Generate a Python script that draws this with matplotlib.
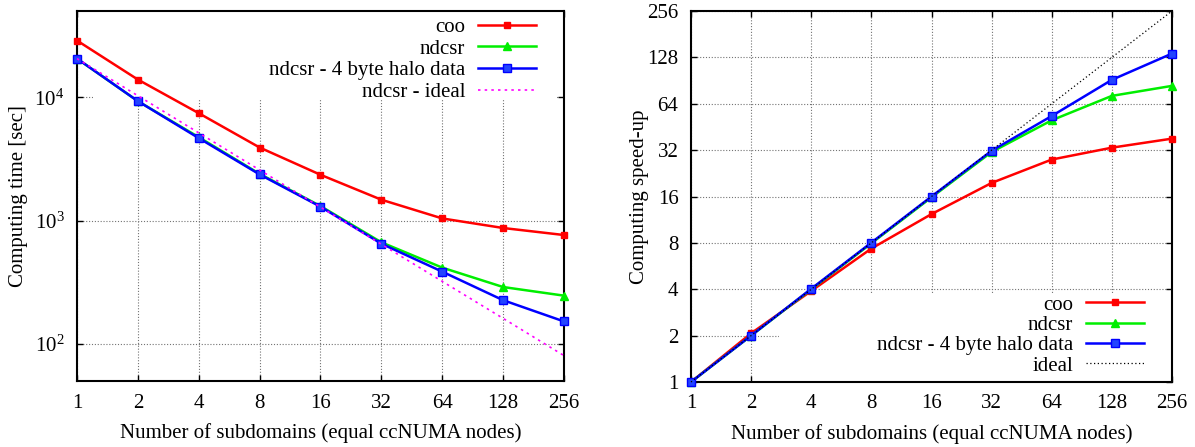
import matplotlib
matplotlib.use("Agg")
import matplotlib.pyplot as plt
from matplotlib.ticker import NullLocator, FixedLocator
from matplotlib.patches import Rectangle

# Number of subdomains (ccNUMA nodes)
nodes = [1, 2, 4, 8, 16, 32, 64, 128, 256]
node_labels = ["1", "2", "4", "8", "16", "32", "64", "128", "256"]

# Computing time [sec]
time_coo = [28800, 13900, 7420, 3910, 2350, 1475, 1040, 870, 763]
time_ndcsr = [20560, 9290, 4740, 2390, 1310, 666, 415, 289, 246]
time_ndcsr_halo4 = [20560, 9290, 4660, 2365, 1295, 649, 385, 226, 152]
time_ndcsr_ideal = [20560, 10280, 5140, 2570, 1285, 642, 321, 161, 80.3]

# Computing speed-up
speedup_coo = [1.0, 2.07, 3.9, 7.35, 12.3, 19.6, 27.8, 33.2, 38.0]
speedup_ndcsr = [1.0, 2.0, 4.0, 7.95, 15.8, 31.1, 50.0, 72.0, 83.6]
speedup_ndcsr_halo4 = [1.0, 2.0, 4.03, 8.03, 16.0, 31.7, 53.3, 91.5, 135.5]
speedup_ideal = [1, 256]
speedup_ideal_nodes = [1, 256]
speedup_ticks = [1, 2, 4, 8, 16, 32, 64, 128, 256]
speedup_labels = ["1", "2", "4", "8", "16", "32", "64", "128", "256"]

plt.rcParams["font.family"] = ["Liberation Serif", "DejaVu Serif"]
plt.rcParams["mathtext.fontset"] = "custom"
plt.rcParams["mathtext.rm"] = "Liberation Serif"
plt.rcParams["mathtext.it"] = "Liberation Serif:italic"
FS = 15

fig = plt.figure(figsize=(11.95, 4.47), dpi=100)
W, H = 1195.0, 447.0
ax1 = fig.add_axes([77 / W, (H - 381) / H, 487 / W, 370 / H])
ax2 = fig.add_axes([691 / W, (H - 382) / H, 481 / W, 371 / H])

RED, GREEN, BLUE, MAGENTA = "#ff0000", "#00ee00", "#0000ff", "#ff00ff"
LW = 1.8


def style_axes(ax):
    ax.set_xscale("log", base=2)
    ax.set_xlim(1, 256)
    ax.xaxis.set_major_locator(FixedLocator(nodes))
    ax.set_xticklabels(node_labels)
    ax.xaxis.set_minor_locator(NullLocator())
    ax.yaxis.set_minor_locator(NullLocator())
    ax.tick_params(which="major", direction="in", length=4, width=1.0,
                   top=True, right=True, labelsize=FS)
    ax.tick_params(axis="x", pad=9)
    ax.tick_params(axis="y", pad=9)
    for sp in ax.spines.values():
        sp.set_linewidth(1.5)
    ax.set_axisbelow(True)
    ax.grid(True, which="major", color="0.45", linestyle=(0, (1, 1.6)),
            linewidth=0.8)
    ax.set_xlabel("Number of subdomains (equal ccNUMA nodes)", fontsize=FS)
    ax.xaxis.set_label_coords(0.5, -0.14)
    ax.xaxis.label.set_va("center")


# ---- Left: computing time ----
style_axes(ax1)
ax1.set_yscale("log")
ax1.set_ylim(50, 50000)
ax1.yaxis.set_major_locator(FixedLocator([100, 1000, 10000]))
ax1.yaxis.set_minor_locator(NullLocator())
ax1.set_ylabel("Computing time [sec]", fontsize=FS, va="center")
ax1.yaxis.set_label_coords(-0.121, 0.5)

ax1.add_patch(Rectangle((0.033, 0.762), 0.953, 0.238, transform=ax1.transAxes,
                        facecolor="white", edgecolor="none", zorder=1))
ax1.plot(nodes, time_coo, color=RED, lw=LW, marker="s", ms=4.3,
         label="coo", zorder=3)
ax1.plot(nodes, time_ndcsr, color=GREEN, lw=LW, marker="^", ms=6,
         label="ndcsr", zorder=3)
ax1.plot(nodes, time_ndcsr_halo4, color=BLUE, lw=LW, marker="s", ms=5.5,
         markerfacecolor="#2244ff", label="ndcsr - 4 byte halo data", zorder=3)
ax1.plot(nodes, time_ndcsr_ideal, color=MAGENTA, lw=1.2,
         linestyle=(0, (1.5, 2.5)), label="ndcsr - ideal", zorder=3)

leg1 = ax1.legend(loc="upper right", bbox_to_anchor=(0.955, 1.0),
                  markerfirst=False, frameon=False, fontsize=FS,
                  borderaxespad=0, borderpad=0.3, labelspacing=0.1,
                  handlelength=2.8, handletextpad=0.6)

# ---- Right: speed-up ----
style_axes(ax2)
ax2.set_yscale("log", base=2)
ax2.set_ylim(1, 256)
ax2.yaxis.set_major_locator(FixedLocator(speedup_ticks))
ax2.set_yticklabels(speedup_labels)
ax2.yaxis.set_minor_locator(NullLocator())
ax2.set_ylabel("Computing speed-up", fontsize=FS, va="center")
ax2.yaxis.set_label_coords(-0.108, 0.5)

ax2.add_patch(Rectangle((0.183, 0.0), 0.817, 0.24, transform=ax2.transAxes,
                        facecolor="white", edgecolor="none", zorder=1))
ax2.plot(nodes, speedup_coo, color=RED, lw=LW, marker="s", ms=4.3,
         label="coo", zorder=3)
ax2.plot(nodes, speedup_ndcsr, color=GREEN, lw=LW, marker="^", ms=6,
         label="ndcsr", zorder=3)
ax2.plot(nodes, speedup_ndcsr_halo4, color=BLUE, lw=LW, marker="s", ms=5.5,
         markerfacecolor="#2244ff", label="ndcsr - 4 byte halo data", zorder=3)
ax2.plot(speedup_ideal_nodes, speedup_ideal, color="black", lw=0.9,
         linestyle=(0, (1, 2)), label="ideal", zorder=3)

leg2 = ax2.legend(loc="lower right", bbox_to_anchor=(0.955, 0.0),
                  markerfirst=False, frameon=False, fontsize=FS,
                  borderaxespad=0, borderpad=0.3, labelspacing=0.04,
                  handlelength=2.8, handletextpad=0.6)

for ax in (ax1, ax2):
    for line in ax.get_lines():
        line.set_clip_on(False)

fig.savefig("out.png", dpi=100)
